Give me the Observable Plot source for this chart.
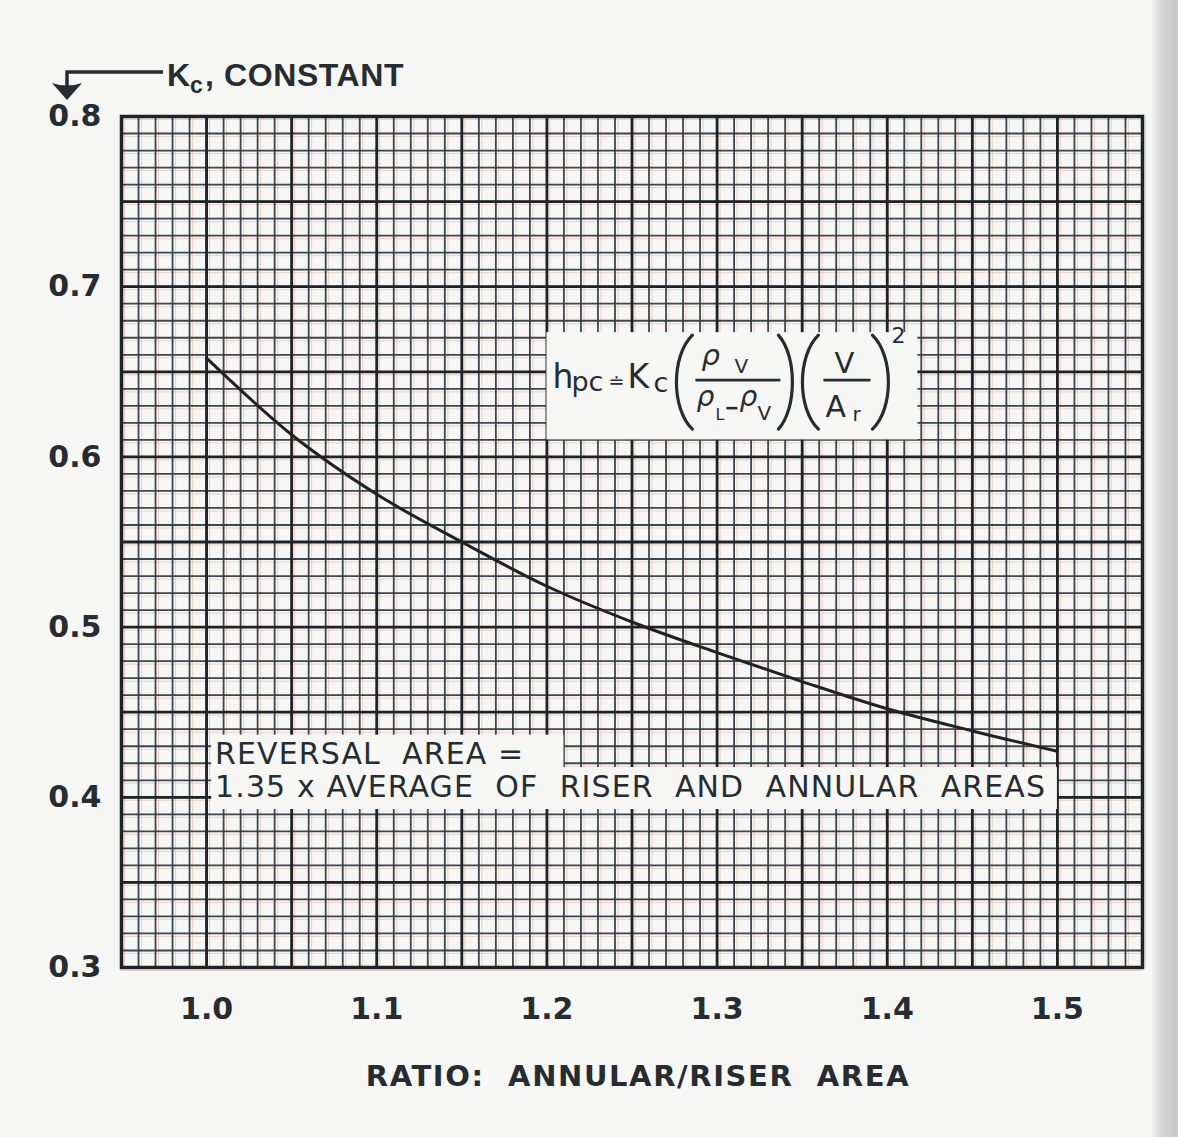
<!DOCTYPE html>
<html><head><meta charset="utf-8">
<script src="https://cdn.jsdelivr.net/npm/d3@7"></script>
<script src="https://cdn.jsdelivr.net/npm/@observablehq/plot@0.6"></script>
<style>
html,body{margin:0;padding:0;background:#f6f6f4;}
#wrap{position:relative;width:1178px;height:1137px;overflow:hidden;background:#f6f6f4;}
#edge{position:absolute;top:0;left:1152px;width:26px;height:1137px;background:linear-gradient(to right,#f0f0f0,#d6d6d6 35%,#c8c8c8);}
</style></head><body><div id="wrap"><div id="edge"></div></div>
<script>
// ---- data ----
const ratio = [1.00, 1.05, 1.10, 1.15, 1.20, 1.25, 1.30, 1.35, 1.40, 1.45, 1.50];
const kc    = [0.658, 0.613, 0.578, 0.550, 0.524, 0.503, 0.485, 0.468, 0.452, 0.439, 0.427];
const xTicks = [1.0, 1.1, 1.2, 1.3, 1.4, 1.5];
const yTicks = [0.3, 0.4, 0.5, 0.6, 0.7, 0.8];
const xDomain = [0.95, 1.55];
const yDomain = [0.3, 0.8];
const xLabel = "RATIO:  ANNULAR/RISER  AREA";
const noteLine1 = "REVERSAL  AREA =";
const noteLine2 = "1.35 x AVERAGE  OF  RISER  AND  ANNULAR  AREAS";
// annotation boxes (data units)
const formulaBox = {x1: 1.200, x2: 1.418, y1: 0.610, y2: 0.673};
const noteBoxA = {x1: 1.003, x2: 1.210, y1: 0.4175, y2: 0.4365};
const noteBoxB = {x1: 1.003, x2: 1.500, y1: 0.3928, y2: 0.4175};
const note1Pos = {x: 1.005, y: 0.4252};
const note2Pos = {x: 1.005, y: 0.4060};

const table = ratio.map((r, i) => ({ratio: r, kc: kc[i]}));
const xMinor = d3.range(95, 156).map(i => i / 100);
const yMinor = d3.range(30, 81).map(i => i / 100);
const xMajor = xMinor.filter((d, i) => i % 5 === 0);
const yMajor = yMinor.filter((d, i) => i % 5 === 0);

const paper = "#f6f6f4";
const ink = "#262c2f";

const plot = Plot.plot({
  width: 1178, height: 1137,
  marginLeft: 121, marginRight: 36, marginTop: 116, marginBottom: 170,
  style: {fontFamily: "DejaVu Sans", background: "transparent", color: ink},
  x: {domain: xDomain},
  y: {domain: yDomain},
  marks: [
    Plot.gridX(xMinor, {stroke: "#e8b6a6", strokeOpacity: 0.6, strokeWidth: 1, dx: 3}),
    Plot.gridY(yMinor, {stroke: "#e8b6a6", strokeOpacity: 0.6, strokeWidth: 1, dy: 3}),
    Plot.gridX(xMinor, {stroke: "#303c44", strokeOpacity: 0.95, strokeWidth: 1.8}),
    Plot.gridY(yMinor, {stroke: "#303c44", strokeOpacity: 0.95, strokeWidth: 1.8}),
    Plot.gridX(xMajor, {stroke: "#1d2326", strokeOpacity: 1, strokeWidth: 2.8}),
    Plot.gridY(yMajor, {stroke: "#1d2326", strokeOpacity: 1, strokeWidth: 2.8}),
    Plot.rect([formulaBox, noteBoxA, noteBoxB], {x1: "x1", x2: "x2", y1: "y1", y2: "y2", fill: paper}),
    Plot.line(table, {x: "ratio", y: "kc", curve: "monotone-x", stroke: "#222", strokeWidth: 3}),
    Plot.frame({stroke: "#1d2326", strokeWidth: 3.5}),
    Plot.text([noteLine1], {x: () => note1Pos.x, y: () => note1Pos.y, text: d => d, textAnchor: "start",
      fontSize: 30, fontWeight: 500, fill: ink, fontFamily: "DejaVu Sans"}),
    Plot.text([noteLine2], {x: () => note2Pos.x, y: () => note2Pos.y, text: d => d, textAnchor: "start",
      fontSize: 30, fontWeight: 500, fill: ink, fontFamily: "DejaVu Sans"}),
    Plot.axisY(yTicks, {tickSize: 0, tickPadding: 20, tickFormat: d3.format(".1f"), label: null,
      fontSize: 30, fontWeight: "bold", fill: ink}),
    Plot.axisX(xTicks, {tickSize: 0, tickPadding: 30, tickFormat: d3.format(".1f"), label: null,
      fontSize: 30, fontWeight: "bold", fill: ink}),
    Plot.text([xLabel], {frameAnchor: "bottom", text: d => d, dy: 118, dx: 6, fontSize: 29, fontWeight: "bold",
      fill: ink, fontFamily: "DejaVu Sans"})
  ]
});
document.getElementById("wrap").appendChild(plot);

const svg = d3.select(plot);
svg.selectAll("text").filter(function(){ return this.textContent === noteLine1 || this.textContent === noteLine2; })
  .style("letter-spacing", "1.1px");
svg.selectAll("text").filter(function(){ return this.textContent === xLabel; })
  .style("letter-spacing", "1.6px");

// ---- formula inside the box ----
const sx = plot.scale("x"), sy = plot.scale("y");
const bx = sx.apply(formulaBox.x1), by = sy.apply(formulaBox.y2);
const g = svg.append("g").attr("transform", `translate(${bx},${by})`).attr("fill", ink)
  .attr("text-anchor", "start").style("font-family", "DejaVu Sans");
function t(str, x, y, size, italic) {
  g.append("text").attr("x", x).attr("y", y).attr("font-size", size).attr("text-anchor", "start")
    .attr("font-style", italic ? "italic" : null).text(str);
}
function paren(xEnd, xExt, y0, y1) {
  const c = (xExt - 0.25 * xEnd) / 0.75, h = y1 - y0;
  g.append("path").attr("d", `M${xEnd},${y0} C${c},${y0 + h * 0.22} ${c},${y1 - h * 0.22} ${xEnd},${y1}`)
    .attr("fill", "none").attr("stroke", ink).attr("stroke-width", 3.2).attr("stroke-linecap", "round");
}
function hline(x0, x1, y, w) {
  g.append("line").attr("x1", x0).attr("x2", x1).attr("y1", y).attr("y2", y)
    .attr("stroke", ink).attr("stroke-width", w || 2.6);
}
t("h", 6, 56, 33);
t("pc", 25, 59, 27);
t("≐", 62, 56, 19);
t("K", 81, 56, 33);
t("c", 107, 60, 27);
paren(146, 130, 3, 97);
t("ρ", 155, 33, 29, true);
t("V", 188, 41, 20);
hline(149, 234, 48);
t("ρ", 150, 74, 28, true);
t("L", 169, 88, 16);
hline(180, 191, 76, 2.6);
t("ρ", 193, 74, 28, true);
t("V", 211, 88, 20);
paren(232, 246, 3, 97);
paren(272, 256, 3, 97);
t("V", 288, 41, 29);
hline(277, 324, 48);
t("A", 279, 85, 30);
t("r", 306, 89, 20);
paren(326, 342, 3, 97);
t("2", 345, 11, 22);

// ---- y-axis title with arrow (top-left) ----
const a = svg.append("g").attr("fill", ink).attr("text-anchor", "start");
a.append("path").attr("d", "M163,72 L67,72 L67,86").attr("fill", "none").attr("stroke", ink).attr("stroke-width", 3.5);
a.append("path").attr("d", "M52,83 Q67,88 82,83 L67,100 Z");
a.append("text").attr("x", 167).attr("y", 86).attr("font-size", 32).attr("font-weight", "bold")
  .attr("text-anchor", "start").style("font-family", "Liberation Sans").text("K");
a.append("text").attr("x", 190).attr("y", 93).attr("font-size", 23).attr("font-weight", "bold")
  .attr("text-anchor", "start").style("font-family", "Liberation Sans").text("c");
a.append("text").attr("x", 205).attr("y", 86).attr("font-size", 32).attr("font-weight", "bold")
  .attr("text-anchor", "start").style("font-family", "Liberation Sans").style("letter-spacing", "0.6px").text(", CONSTANT");
</script>
</body></html>
